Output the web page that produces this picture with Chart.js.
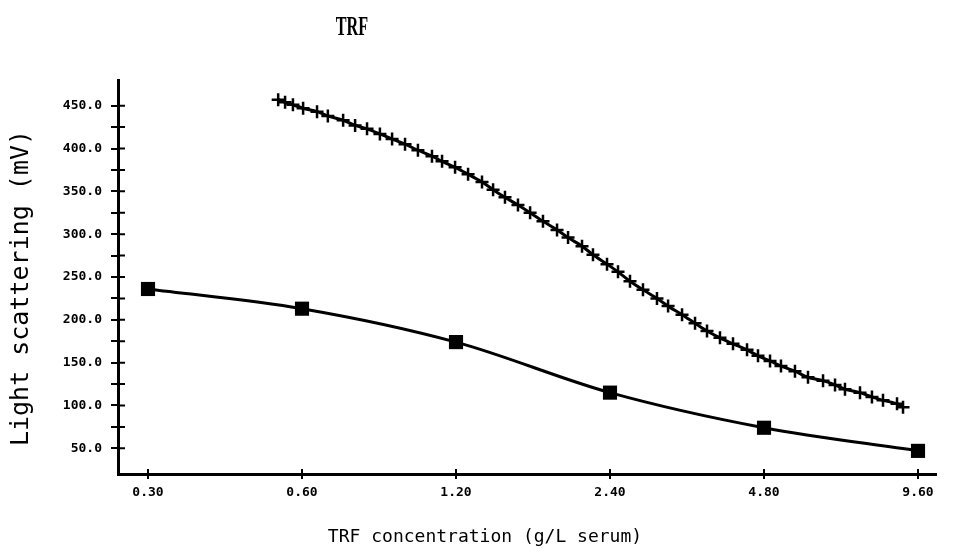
<!DOCTYPE html>
<html>
<head>
<meta charset="utf-8">
<script src="https://cdn.jsdelivr.net/npm/chart.js@4.4.0/dist/chart.umd.min.js"></script>
<style>
  html, body { margin: 0; padding: 0; background: #fff; }
  #wrap { width: 954px; height: 554px; }
</style>
</head>
<body>
<div id="wrap"><canvas id="c" width="954" height="554"></canvas></div>
<script>
const chartTitle = 'TRF';
const xAxisTitle = 'TRF concentration (g/L serum)';
const yAxisTitle = 'Light scattering (mV)';

const xTickValues = [0.30, 0.60, 1.20, 2.40, 4.80, 9.60];
const yMajorTicks = [50, 100, 150, 200, 250, 300, 350, 400, 450];
const yMinorTicks = [75, 125, 175, 225, 275, 325, 375, 425];

const lowerConc = [0.30, 0.60, 1.20, 2.40, 4.80, 9.60];
const lowerSignal = [236, 213, 174, 115, 74, 47];

const upperConc = [0.539, 0.556, 0.576, 0.603, 0.642, 0.674, 0.722, 0.762, 0.804, 0.852,
  0.900, 0.954, 1.011, 1.077, 1.127, 1.195, 1.267, 1.349, 1.418, 1.496,
  1.586, 1.675, 1.775, 1.891, 1.987, 2.116, 2.223, 2.368, 2.488, 2.626,
  2.784, 2.965, 3.117, 3.319, 3.519, 3.714, 3.937, 4.175, 4.447, 4.672,
  4.932, 5.181, 5.518, 5.851, 6.261, 6.608, 6.911, 7.394, 7.803, 8.201,
  8.735, 8.974];
const upperSignal = [457, 454, 451, 447, 443, 438, 433, 427, 423, 417,
  411, 405, 398, 391, 385, 378, 370, 361, 352, 343,
  334, 325, 315, 305, 296, 286, 276, 265, 256, 245,
  235, 225, 216, 206, 196, 187, 179, 172, 165, 158,
  152, 146, 140, 133, 129, 124, 119, 115, 110, 106,
  102, 98];

const toXY = (xs, ys) => xs.map((x, i) => ({ x: x, y: ys[i] }));

const crossTicks = {
  id: 'crossTicks',
  afterDraw(chart) {
    const ctx = chart.ctx;
    const xs = chart.scales.x, ys = chart.scales.y;
    const area = chart.chartArea;
    ctx.save();
    ctx.strokeStyle = '#000';
    ctx.lineWidth = 2;
    ctx.beginPath();
    yMajorTicks.concat(yMinorTicks).forEach(v => {
      const p = ys.getPixelForValue(v);
      ctx.moveTo(area.left, p);
      ctx.lineTo(area.left + 7, p);
    });
    xTickValues.forEach(v => {
      const p = xs.getPixelForValue(v);
      ctx.moveTo(p, area.bottom);
      ctx.lineTo(p, area.bottom - 5);
    });
    ctx.stroke();

    ctx.fillStyle = '#000';
    // chart title
    ctx.save();
    ctx.font = 'bold 27px "Liberation Serif"';
    ctx.textAlign = 'center';
    ctx.textBaseline = 'alphabetic';
    ctx.translate(352, 35);
    ctx.scale(0.6, 1);
    ctx.fillText(chartTitle, 0, 0);
    ctx.restore();
    // x axis title
    ctx.font = '18px "DejaVu Sans Mono"';
    ctx.textAlign = 'center';
    ctx.textBaseline = 'middle';
    ctx.fillText(xAxisTitle, 485, 537);
    // y axis title
    ctx.save();
    ctx.translate(21, 288);
    ctx.rotate(-Math.PI / 2);
    ctx.font = '25px "DejaVu Sans Mono"';
    ctx.fillText(yAxisTitle, 0, 0);
    ctx.restore();
    ctx.restore();
  }
};

new Chart(document.getElementById('c'), {
  type: 'line',
  data: {
    datasets: [
      {
        label: 'upper',
        data: toXY(upperConc, upperSignal),
        borderColor: '#000',
        backgroundColor: '#000',
        borderWidth: 3,
        tension: 0.3,
        pointStyle: 'cross',
        pointRadius: 6.5,
        pointBorderWidth: 2.5,
        pointBorderColor: '#000',
        fill: false
      },
      {
        label: 'lower',
        data: toXY(lowerConc, lowerSignal),
        borderColor: '#000',
        backgroundColor: '#000',
        borderWidth: 3,
        cubicInterpolationMode: 'monotone',
        pointStyle: 'rect',
        pointRadius: 10,
        pointBorderWidth: 0,
        pointBackgroundColor: '#000',
        fill: false
      }
    ]
  },
  options: {
    responsive: false,
    animation: false,
    devicePixelRatio: 1,
    layout: { padding: { left: 0, right: 18, top: 80, bottom: 0 } },
    plugins: { legend: { display: false }, title: { display: false }, tooltip: { enabled: false } },
    scales: {
      x: {
        type: 'logarithmic',
        min: 0.2621,
        max: 10.41,
        afterBuildTicks: s => { s.ticks = xTickValues.map(v => ({ value: v })); },
        afterFit: s => { s.height = 80; },
        ticks: {
          autoSkip: false,
          maxRotation: 0,
          padding: 6,
          color: '#000',
          font: { family: '"DejaVu Sans Mono"', size: 13, weight: 'bold' },
          callback: v => Number(v).toFixed(2)
        },
        grid: { display: true, drawOnChartArea: false, drawTicks: true, tickLength: 5, color: '#000', lineWidth: 2 },
        border: { display: true, color: '#000', width: 3 }
      },
      y: {
        type: 'linear',
        min: 20,
        max: 480,
        afterBuildTicks: s => {
          s.ticks = yMajorTicks.concat(yMinorTicks).sort((a, b) => a - b).map(v => ({ value: v }));
        },
        afterFit: s => { s.width = 118; },
        ticks: {
          autoSkip: false,
          padding: 9,
          color: '#000',
          font: { family: '"DejaVu Sans Mono"', size: 13, weight: 'bold' },
          callback: v => yMajorTicks.includes(v) ? Number(v).toFixed(1) : ''
        },
        grid: { display: true, drawOnChartArea: false, drawTicks: true, tickLength: 7, color: '#000', lineWidth: 2 },
        border: { display: true, color: '#000', width: 3 }
      }
    }
  },
  plugins: [crossTicks]
});
</script>
</body>
</html>
